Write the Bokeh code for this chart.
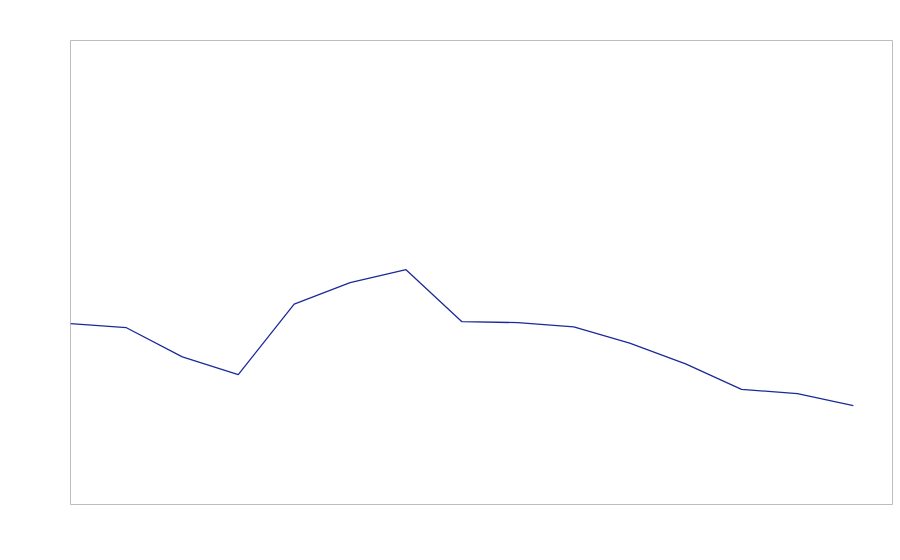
from bokeh.plotting import figure
from bokeh.models import Range1d
from bokeh.embed import file_html
from bokeh.resources import INLINE

x_idx = list(range(15))
values = [39.0, 38.1, 31.8, 28.0, 43.2, 47.8, 50.6, 39.4, 39.2, 38.3, 34.8, 30.3, 24.8, 23.9, 21.3]

p = figure(width=898, height=552, output_backend="svg", toolbar_location=None,
           x_range=Range1d(0, 14.70), y_range=Range1d(0, 100),
           min_border_left=70, min_border_right=6, min_border_top=40, min_border_bottom=48)
p.xaxis.visible = False
p.yaxis.visible = False
p.xgrid.visible = False
p.ygrid.visible = False
p.outline_line_color = "#bdbdbd"
p.outline_line_width = 1
p.outline_line_alpha = 1
p.background_fill_color = "white"
p.border_fill_color = "white"

p.line(x_idx, values, line_color="#1c2a98", line_width=1.3)

open("out.html", "w").write(file_html(p, INLINE))
